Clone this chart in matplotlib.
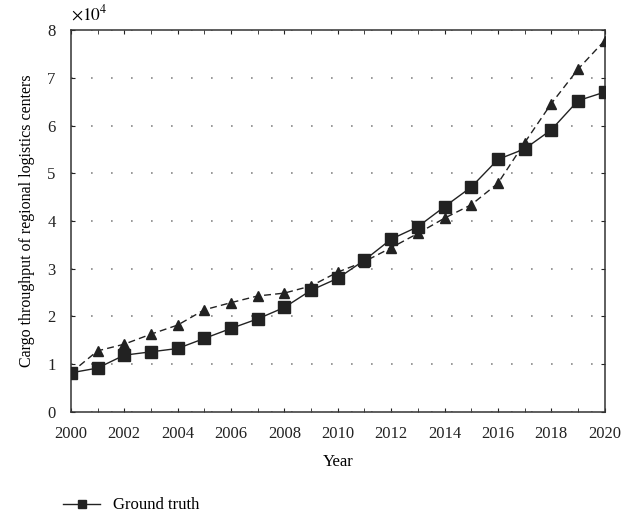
import numpy as np
import matplotlib
matplotlib.use('Agg')
import matplotlib.pyplot as plt
from matplotlib.ticker import MultipleLocator

plt.rcParams['font.family'] = ['Liberation Serif', 'DejaVu Serif']
plt.rcParams['mathtext.fontset'] = 'stix'

# Cargo throughput (x1e4) per year
years = np.arange(2000, 2021)
ground_truth = [0.82, 0.92, 1.19, 1.26, 1.33, 1.54, 1.75, 1.95, 2.19, 2.55, 2.80,
                3.18, 3.62, 3.88, 4.30, 4.71, 5.29, 5.51, 5.91, 6.52, 6.70]
predicted = [0.82, 1.28, 1.42, 1.63, 1.82, 2.14, 2.29, 2.43, 2.49, 2.64, 2.93,
             3.15, 3.44, 3.74, 4.06, 4.34, 4.79, 5.64, 6.46, 7.18, 7.78]

fig = plt.figure(figsize=(6.44, 5.20), dpi=100)
ax = fig.add_axes([0.110, 0.2077, 0.829, 0.7346])

ax.plot(years, ground_truth, '-', color='#222222', lw=1.0, marker='s', ms=8,
        label='Ground truth', zorder=3)
ax.plot(years, predicted, '--', color='#222222', lw=1.0, marker='^', ms=7,
        dashes=(5, 3), label='Predicted', zorder=3)

ax.set_xlim(2000, 2020)
ax.set_ylim(0, 8)
ax.set_xticks(np.arange(2000, 2021, 2))
ax.xaxis.set_minor_locator(MultipleLocator(1))
ax.yaxis.set_major_locator(MultipleLocator(1))
ax.tick_params(direction='in', top=True, right=True, which='both',
               labelsize=12, colors='#222222', length=3)
ax.tick_params(axis='x', pad=10)
ax.tick_params(axis='y', pad=11)
for s in ax.spines.values():
    s.set_color('#333333')
    s.set_linewidth(1.1)

ax.grid(axis='y', linestyle=(0, (1, 11)), color='#888888', lw=1.2)

ax.set_xlabel('Year', fontsize=12, labelpad=9)
ax.set_ylabel('Cargo throughput of regional logistics centers', fontsize=11.5)
ax.yaxis.set_label_coords(-0.068, 0.5)
ax.text(0.0, 1.015, r'$\times10^{4}$', transform=ax.transAxes, fontsize=12.5,
        ha='left', va='bottom')

handles, labels = ax.get_legend_handles_labels()
fig.legend(handles[:1], labels[:1], loc='center left',
           bbox_to_anchor=(0.075, 0.028), frameon=False, fontsize=12,
           handlelength=2.2, markerscale=0.7)

fig.savefig('out.png', dpi=100)
